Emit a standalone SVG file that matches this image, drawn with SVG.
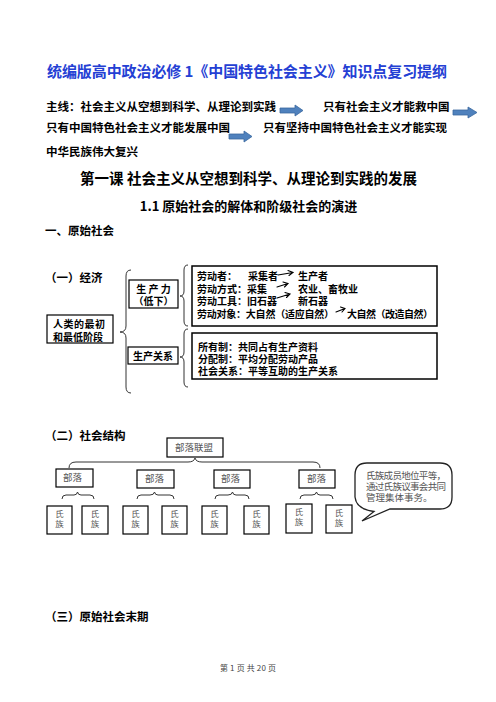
<svg xmlns="http://www.w3.org/2000/svg" width="496" height="702" viewBox="0 0 496 702">
<style>
text{font-family:"Noto Sans CJK SC","Liberation Sans",sans-serif;}
.b{font-weight:bold;fill:#000;}
.t{font-size:11.5px;}
.bx{fill:#fff;stroke:#000;stroke-width:1.2;}
.bx2{fill:#fff;stroke:#000;stroke-width:1.5;}
.s{font-size:10px;font-weight:bold;fill:#000;}
.g{font-size:9.5px;fill:#555;font-weight:normal;}
.c{font-size:8.5px;fill:#555;font-weight:normal;text-anchor:middle;}
.br{fill:none;stroke:#333;stroke-width:1;}
.ln{fill:none;stroke:#000;stroke-width:1.1;stroke-linecap:round;}
.ba{fill:#4f81bd;stroke:#3a689e;stroke-width:0.8;}
</style>
<rect width="496" height="702" fill="#fff"/>
<g id="title">
<text x="47" y="77" font-size="15" font-weight="bold" fill="#2440d4" textLength="400">统编版高中政治必修 1《中国特色社会主义》知识点复习提纲</text>
</g>
<g id="mainline">
<text class="b t" x="46" y="111">主线：社会主义从空想到科学、从理论到实践</text>
<text class="b t" x="323" y="111">只有社会主义才能救中国</text>
<text class="b t" x="46" y="132">只有中国特色社会主义才能发展中国</text>
<text class="b t" x="263" y="132">只有坚持中国特色社会主义才能实现</text>
<text class="b t" x="46" y="156">中华民族伟大复兴</text>
</g>
<g id="headings">
<text class="b" x="248.5" y="183.5" font-size="14.5" text-anchor="middle">第一课 社会主义从空想到科学、从理论到实践的发展</text>
<text class="b" x="248.5" y="211" font-size="13" text-anchor="middle">1.1 原始社会的解体和阶级社会的演进</text>
<text class="b t" x="45" y="235">一、原始社会</text>
<text class="b t" x="45" y="282">（一）经济</text>
<text class="b t" x="45" y="440">（二）社会结构</text>
<text class="b t" x="45" y="621">（三）原始社会末期</text>
</g>
<g id="n-human">
<rect class="bx" x="47" y="315" width="66" height="28"/>
<text class="s" x="53" y="328" textLength="52">人类的最初</text>
<text class="s" x="53" y="341" textLength="50">和最低阶段</text>
</g>
<g id="n-productivity">
<rect class="bx" x="129" y="280" width="49" height="28"/>
<text class="s" x="153.5" y="293" text-anchor="middle">生 产 力</text>
<text class="s" x="153.5" y="305" text-anchor="middle">（低下）</text>
</g>
<g id="n-relations">
<rect class="bx" x="128" y="347" width="50" height="17"/>
<text class="s" x="153" y="360" text-anchor="middle">生产关系</text>
</g>
<g id="n-prod-detail">
<rect class="bx2" x="192" y="266" width="245" height="60"/>
<text class="s" x="197" y="280">劳动者：</text>
<text class="s" x="248" y="280">采集者</text>
<text class="s" x="298" y="280">生产者</text>
<text class="s" x="197" y="292.5">劳动方式：采集</text>
<text class="s" x="298" y="292.5">农业、畜牧业</text>
<text class="s" x="197" y="305">劳动工具：旧石器</text>
<text class="s" x="298" y="305">新石器</text>
<text class="s" x="197" y="317.5" textLength="137">劳动对象：大自然（适应自然）</text>
<text class="s" x="347" y="317.5" textLength="86">大自然（改造自然）</text>
</g>
<g id="n-rel-detail">
<rect class="bx2" x="192" y="333" width="245" height="46"/>
<text class="s" x="198" y="351">所有制：共同占有生产资料</text>
<text class="s" x="198" y="363">分配制：平均分配劳动产品</text>
<text class="s" x="198" y="375">社会关系：平等互助的生产关系</text>
</g>
<g id="n-alliance">
<rect class="bx" x="167" y="438" width="56" height="19"/>
<text class="g" x="175" y="450.5">部落联盟</text>
</g>
<g id="n-tribe1"><rect class="bx" x="56" y="469" width="37" height="18"/><text class="g" x="63" y="481">部落</text></g>
<g id="n-tribe2"><rect class="bx" x="137" y="470" width="37" height="18"/><text class="g" x="145" y="482">部落</text></g>
<g id="n-tribe3"><rect class="bx" x="214" y="470" width="36" height="18"/><text class="g" x="221" y="482">部落</text></g>
<g id="n-tribe4"><rect class="bx" x="299" y="470" width="36" height="18"/><text class="g" x="307" y="482">部落</text></g>
<g id="n-clan1a"><rect class="bx" x="47" y="506" width="25" height="28"/><text class="c" x="59.5" y="517">氏</text><text class="c" x="59.5" y="527">族</text></g>
<g id="n-clan1b"><rect class="bx" x="82" y="506" width="26" height="28"/><text class="c" x="95" y="517">氏</text><text class="c" x="95" y="527">族</text></g>
<g id="n-clan2a"><rect class="bx" x="123" y="506" width="25" height="28"/><text class="c" x="135.5" y="517">氏</text><text class="c" x="135.5" y="527">族</text></g>
<g id="n-clan2b"><rect class="bx" x="162" y="506" width="25" height="28"/><text class="c" x="174.5" y="517">氏</text><text class="c" x="174.5" y="527">族</text></g>
<g id="n-clan3a"><rect class="bx" x="202" y="506" width="25" height="28"/><text class="c" x="214.5" y="517">氏</text><text class="c" x="214.5" y="527">族</text></g>
<g id="n-clan3b"><rect class="bx" x="244" y="506" width="25" height="28"/><text class="c" x="256.5" y="517">氏</text><text class="c" x="256.5" y="527">族</text></g>
<g id="n-clan4a"><rect class="bx" x="286" y="504" width="26" height="29"/><text class="c" x="299" y="515">氏</text><text class="c" x="299" y="525">族</text></g>
<g id="n-clan4b"><rect class="bx" x="326" y="505" width="26" height="28"/><text class="c" x="339" y="516">氏</text><text class="c" x="339" y="526">族</text></g>
<g id="n-bubble">
<path d="M367,463 H440 Q452,463 452,475 V497 Q452,509 440,509 H390 L362,521 L374,511.5 Q356,509 355,497 V475 Q355,463 367,463 Z" fill="#fff" stroke="#222" stroke-width="1.3"/>
<text class="g" x="366" y="479" font-size="9" textLength="80">氏族成员地位平等，</text>
<text class="g" x="366" y="490" font-size="9" textLength="80">通过氏族议事会共同</text>
<text class="g" x="366" y="501" font-size="9">管理集体事务。</text>
</g>
<g id="footer">
<text x="220" y="671" font-size="8" fill="#444" textLength="56">第 1 页 共 20 页</text>
</g>
<g id="connectors">
<path class="ba" d="M280,108 H295 V105 L303,110.5 L295,116 V113 H280 Z"/>
<path class="ba" d="M453,110 H468 V107 L477,112.5 L468,118 V115 H453 Z"/>
<path class="ba" d="M229,134 H244 V131 L252,136.5 L244,142 V139 H229 Z"/>
<path class="br" d="M131,270 Q126,270 126,276 L126,326 Q126,332 120,332 Q126,332 126,338 L126,387 Q126,393 131,393"/>
<path class="br" d="M188,265 Q184,265 184,270 L184,291 Q184,296 180,296 Q184,296 184,301 L184,321 Q184,326 188,326"/>
<path class="br" d="M188,329 Q184,329 184,334 L184,352 Q184,357 180,357 Q184,357 184,362 L184,382 Q184,387 188,387"/>
<path class="ln" d="M278,275 L293,272.5 M288,270.5 L293,272.5 L289,275.5"/>
<path class="ln" d="M277,287 L288,283.5 M283,282 L288,283.5 L284.5,287"/>
<path class="ln" d="M277,298 L290,294 M285,292.5 L290,294 L286.5,297.5"/>
<path class="ln" d="M336,312 L345,308.5 M340.5,307 L345,308.5 L342,312"/>
<path class="br" d="M69,468 Q69,462 76,462 L188,462 Q194,462 195,458 Q196,462 202,462 L313,462 Q320,462 320,468"/>
<path class="br" d="M62,499 Q62,495 66,495 L74,495 Q77,495 77.5,492 Q78,495 81,495 L90,495 Q94,495 94,499"/>
<path class="br" d="M137,499 Q137,495 141,495 L150,495 Q154,495 154.5,492 Q155,495 158,495 L170,495 Q174,495 174,499"/>
<path class="br" d="M215,499 Q215,495 219,495 L228,495 Q232,495 232.5,492 Q233,495 236,495 L245,495 Q249,495 249,499"/>
<path class="br" d="M300,499 Q300,495 304,495 L312,495 Q316,495 316.5,492 Q317,495 320,495 L329,495 Q333,495 333,499"/>
</g>
</svg>
